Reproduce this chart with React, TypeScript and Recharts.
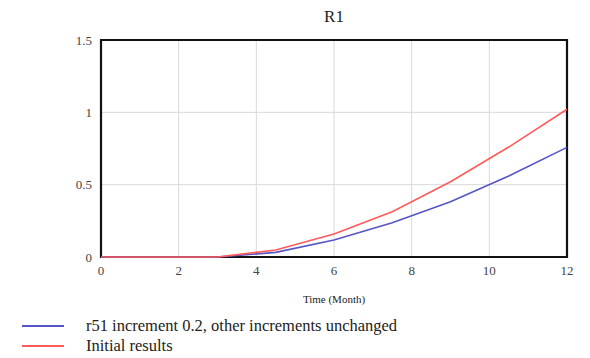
import React from "react";
import { LineChart, Line, XAxis, YAxis, CartesianGrid, ReferenceArea } from "recharts";

const months = [0, 1.5, 3, 4.5, 6, 7.5, 9, 10.5, 12];
const r51Increment = [0, 0, 0, 0.032, 0.117, 0.237, 0.382, 0.56, 0.758];
const initialResults = [0, 0, 0, 0.048, 0.159, 0.313, 0.52, 0.76, 1.021];
const xTicks = [0, 2, 4, 6, 8, 10, 12];
const yTicks = [0, 0.5, 1, 1.5];
const seriesNames = ["r51 increment 0.2, other increments unchanged", "Initial results"];
const seriesColors = ["#5555c4", "#ff5b5b"];
const title = "R1";
const xTitle = "Time (Month)";

const data = months.map((m, i) => ({ m, a: r51Increment[i], b: initialResults[i] }));
const keys = ["a", "b"];

const FONT = "Liberation Serif, DejaVu Serif, serif";

export default function App() {
  return (
    <div style={{ position: "absolute", left: 0, top: 0, width: 590, height: 358, background: "#fff", fontFamily: FONT }}>
      <div style={{ position: "absolute", left: 0, width: 668, top: 7, textAlign: "center", fontSize: 17, color: "#222", fontFamily: FONT }}>{title}</div>
      <LineChart width={590} height={358} data={data} margin={{ top: 40, right: 23, left: 61, bottom: 71 }} style={{ fontFamily: FONT }}>
        <CartesianGrid stroke="#d9d9d9" strokeWidth={1} />
        <XAxis
          dataKey="m"
          type="number"
          domain={[0, 12]}
          ticks={xTicks}
          height={30}
          axisLine={false}
          tickLine={false}
          tick={{ fill: "#444", fontSize: 13, fontFamily: FONT, style: { fontFamily: FONT } }}
          tickMargin={3}
          label={{ value: xTitle, position: "bottom", offset: 8, style: { fill: "#222", fontSize: 11, fontFamily: FONT } }}
        />
        <YAxis
          type="number"
          domain={[0, 1.5]}
          ticks={yTicks}
          width={40}
          axisLine={false}
          tickLine={false}
          tick={{ fill: "#444", fontSize: 13, fontFamily: FONT, style: { fontFamily: FONT } }}
          tickMargin={3}
        />
        <ReferenceArea x1={0} x2={12} y1={0} y2={1.5} fill="none" fillOpacity={0} stroke="#111" strokeWidth={2.2} ifOverflow="visible" />
        {keys.map((k, i) => (
          <Line key={k} dataKey={k} type="linear" stroke={seriesColors[i]} strokeWidth={1.6} dot={false} isAnimationActive={false} />
        ))}
      </LineChart>
      {seriesNames.map((n, i) => (
        <div key={n} style={{ position: "absolute", left: 22, top: 316 + i * 20, height: 20, display: "flex", alignItems: "center" }}>
          <div style={{ width: 42, height: 2, background: seriesColors[i] }} />
          <span style={{ marginLeft: 22, fontSize: 16.5, color: "#222", whiteSpace: "nowrap", fontFamily: FONT }}>{n}</span>
        </div>
      ))}
    </div>
  );
}
